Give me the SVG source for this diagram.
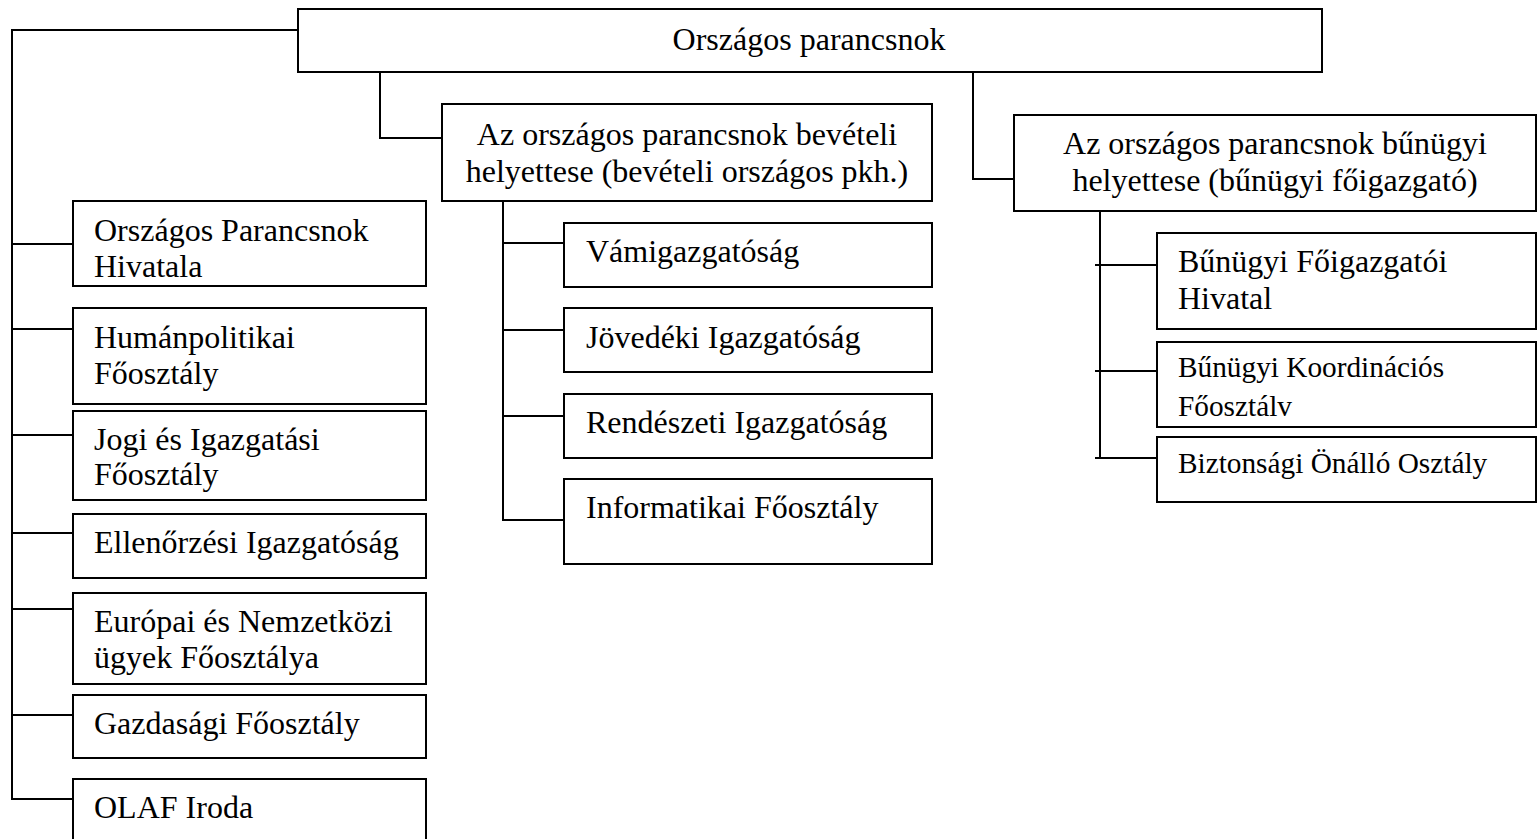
<svg xmlns="http://www.w3.org/2000/svg" width="1539" height="839" viewBox="0 0 1539 839">
<style>
.box{fill:#fff;stroke:#000;stroke-width:2}
.ln{fill:none;stroke:#000;stroke-width:2}
text{font-family:"Liberation Serif","Times New Roman",serif;font-size:32px;fill:#000}
.c{text-anchor:middle}
.s{font-size:29.3px}
</style>
<rect width="1539" height="839" fill="#fff"/>
<g id="connectors">
<path class="ln" d="M298 30H12V799H73"/>
<path class="ln" d="M12 244H73M12 329H73M12 435H73M12 533H73M12 609H73M12 715H73"/>
<path class="ln" d="M380 72V138H442"/>
<path class="ln" d="M973 72V179H1014"/>
<path class="ln" d="M503 201V520H564M503 243H564M503 330H564M503 416H564"/>
<path class="ln" d="M1100 211V458M1095 265H1157M1095 371H1157M1095 458H1157"/>
</g>
<g id="n-root"><rect class="box" x="298" y="9" width="1024" height="63"/><text class="c" x="809" y="50">Országos parancsnok</text></g>
<g id="n-bev"><rect class="box" x="442" y="104" width="490" height="97"/><text class="c" x="687" y="145">Az országos parancsnok bevételi</text><text class="c" x="687" y="182">helyettese (bevételi országos pkh.)</text></g>
<g id="n-bun"><rect class="box" x="1014" y="115" width="522" height="96"/><text class="c" x="1275" y="154">Az országos parancsnok bűnügyi</text><text class="c" x="1275" y="191">helyettese (bűnügyi főigazgató)</text></g>
<g id="n-oph"><rect class="box" x="73" y="201" width="353" height="85"/><text x="94" y="241">Országos Parancsnok</text><text x="94" y="277">Hivatala</text></g>
<g id="n-hum"><rect class="box" x="73" y="308" width="353" height="96"/><text x="94" y="348">Humánpolitikai</text><text x="94" y="384">Főosztály</text></g>
<g id="n-jogi"><rect class="box" x="73" y="411" width="353" height="89"/><text x="94" y="450">Jogi és Igazgatási</text><text x="94" y="485">Főosztály</text></g>
<g id="n-ell"><rect class="box" x="73" y="514" width="353" height="64"/><text x="94" y="553">Ellenőrzési Igazgatóság</text></g>
<g id="n-eur"><rect class="box" x="73" y="593" width="353" height="91"/><text x="94" y="632">Európai és Nemzetközi</text><text x="94" y="668">ügyek Főosztálya</text></g>
<g id="n-gazd"><rect class="box" x="73" y="695" width="353" height="63"/><text x="94" y="734">Gazdasági Főosztály</text></g>
<g id="n-olaf"><rect class="box" x="73" y="779" width="353" height="70"/><text x="94" y="818">OLAF Iroda</text></g>
<g id="n-vam"><rect class="box" x="564" y="223" width="368" height="64"/><text x="586" y="262">Vámigazgatóság</text></g>
<g id="n-jov"><rect class="box" x="564" y="308" width="368" height="64"/><text x="586" y="348">Jövedéki Igazgatóság</text></g>
<g id="n-rend"><rect class="box" x="564" y="394" width="368" height="64"/><text x="586" y="433">Rendészeti Igazgatóság</text></g>
<g id="n-inf"><rect class="box" x="564" y="479" width="368" height="85"/><text x="586" y="518">Informatikai Főosztály</text></g>
<g id="n-bfh"><rect class="box" x="1157" y="233" width="379" height="96"/><text x="1178" y="272">Bűnügyi Főigazgatói</text><text x="1178" y="309">Hivatal</text></g>
<g id="n-bko"><rect class="box" x="1157" y="342" width="379" height="85"/><text class="s" x="1178" y="377">Bűnügyi Koordinációs</text><text class="s" x="1178" y="416">Főosztálv</text></g>
<g id="n-bio"><rect class="box" x="1157" y="437" width="379" height="65"/><text class="s" x="1178" y="473">Biztonsági Önálló Osztály</text></g>
</svg>
